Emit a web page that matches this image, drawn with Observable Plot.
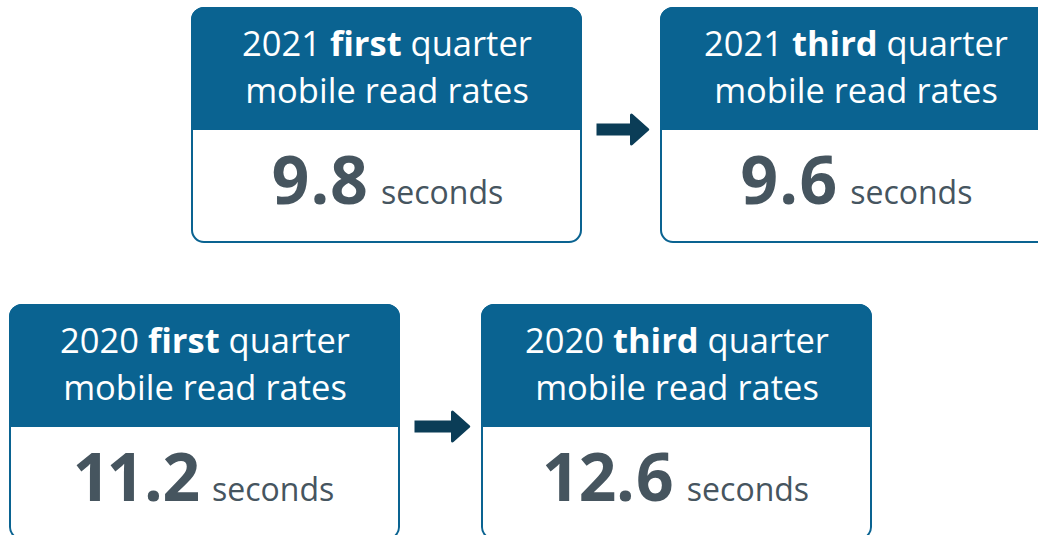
<!DOCTYPE html>
<html>
<head>
<meta charset="utf-8">
<script src="https://cdn.jsdelivr.net/npm/d3@7"></script>
<script src="https://cdn.jsdelivr.net/npm/@observablehq/plot@0.6"></script>
<style>
  html, body { margin: 0; padding: 0; background: #fff; overflow: hidden; }
  #chart svg { display: block; }
</style>
</head>
<body>
<div id="chart"></div>
<script>
// ---- data ----
const years = ["2021", "2021", "2020", "2020"];
const quarters = ["first", "third", "first", "third"];
const readRates = [9.8, 9.6, 11.2, 12.6];
const headerSecondLine = "mobile read rates";
const unitLabel = "seconds";

// ---- layout (not data) ----
const W = 1038, H = 535;
const cardW = 389, cardH = 234, headerH = 121, radius = 12;
const rowTop = {"2021": 8, "2020": 305};
const rowLeft = {"2021": [192, 661], "2020": [10, 482]};
const blue = "#0a6391", arrowColor = "#0b3d57", grey = "#46555f";
const font = "Open Sans";

const cards = years.map((y, i) => {
  const col = quarters[i] === "first" ? 0 : 1;
  const x1 = rowLeft[y][col], y1 = rowTop[y];
  return {
    year: y, quarter: quarters[i], value: readRates[i],
    x1, x2: x1 + cardW, y1, y2: y1 + cardH, hb: y1 + headerH,
    cx: x1 + cardW / 2,
    line1: `${y} ${quarters[i]} quarter`,
    valueText: readRates[i].toFixed(1)
  };
});

const rows = Array.from(new Set(years));
const arrows = rows.map(y => {
  const a = cards.find(c => c.year === y && c.quarter === "first");
  const b = cards.find(c => c.year === y && c.quarter === "third");
  const base = b.x1 - 30;
  return {x1: a.x2 + 15, x2: base + 3, base, y: a.hb};
});

// arrowhead glyph: isosceles triangle pointing right, base at the origin
const arrowHead = {
  draw(ctx, size) {
    const r = Math.sqrt(size / Math.PI);
    ctx.moveTo(0, -r);
    ctx.lineTo(1.12 * r, 0);
    ctx.lineTo(0, r);
    ctx.closePath();
  }
};

const svg = Plot.plot({
  width: W, height: H,
  margin: 0,
  x: {domain: [0, W], range: [0, W], axis: null},
  y: {domain: [0, H], range: [0, H], axis: null},
  style: {background: "white", fontFamily: font},
  marks: [
    Plot.rect(cards, {x1: "x1", x2: "x2", y1: "y1", y2: "y2", fill: "white", stroke: blue, strokeWidth: 2, rx: radius}),
    Plot.rect(cards, {x1: "x1", x2: "x2", y1: "y1", y2: "hb", fill: blue, stroke: blue, strokeWidth: 2, rx: radius}),
    Plot.rect(cards, {x1: "x1", x2: "x2", y1: d => d.hb - 20, y2: "hb", fill: blue, stroke: blue, strokeWidth: 2}),
    Plot.text(cards, {x: "cx", y: d => d.y1 + 47, text: "line1", fill: "white", fontSize: 34.5, fontFamily: font, lineAnchor: "bottom"}),
    Plot.text(cards, {x: "cx", y: d => d.y1 + 94, text: () => headerSecondLine, fill: "white", fontSize: 34.5, fontFamily: font, lineAnchor: "bottom"}),
    Plot.text(cards, {x: "cx", y: d => d.y1 + 195, text: "valueText", fill: grey, fontSize: 66, fontWeight: 700, fontFamily: font, fontVariant: "proportional-nums", lineAnchor: "bottom"}),
    Plot.link(arrows, {x1: "x1", y1: "y", x2: "x2", y2: "y", stroke: arrowColor, strokeWidth: 12, strokeLinecap: "butt"}),
    Plot.dot(arrows, {x: "base", y: "y", r: 14.5, symbol: arrowHead, fill: arrowColor, stroke: arrowColor, strokeWidth: 3, strokeLinejoin: "round"})
  ]
});

// mixed-weight text runs
const line1Set = new Map(cards.map(c => [c.line1, c]));
const valueSet = new Set(cards.map(c => c.valueText));
d3.select(svg).selectAll("text").each(function() {
  const s = this.textContent;
  const t = d3.select(this);
  if (line1Set.has(s)) {
    const c = line1Set.get(s);
    t.text(null);
    t.append("tspan").text(c.year + " ");
    t.append("tspan").attr("font-weight", 700).text(c.quarter);
    t.append("tspan").text(" quarter");
  } else if (valueSet.has(s)) {
    t.append("tspan")
      .attr("font-size", 32)
      .attr("font-weight", 400)
      .attr("dx", 4)
      .text(" " + unitLabel);
  }
});

document.getElementById("chart").appendChild(svg);
</script>
</body>
</html>
